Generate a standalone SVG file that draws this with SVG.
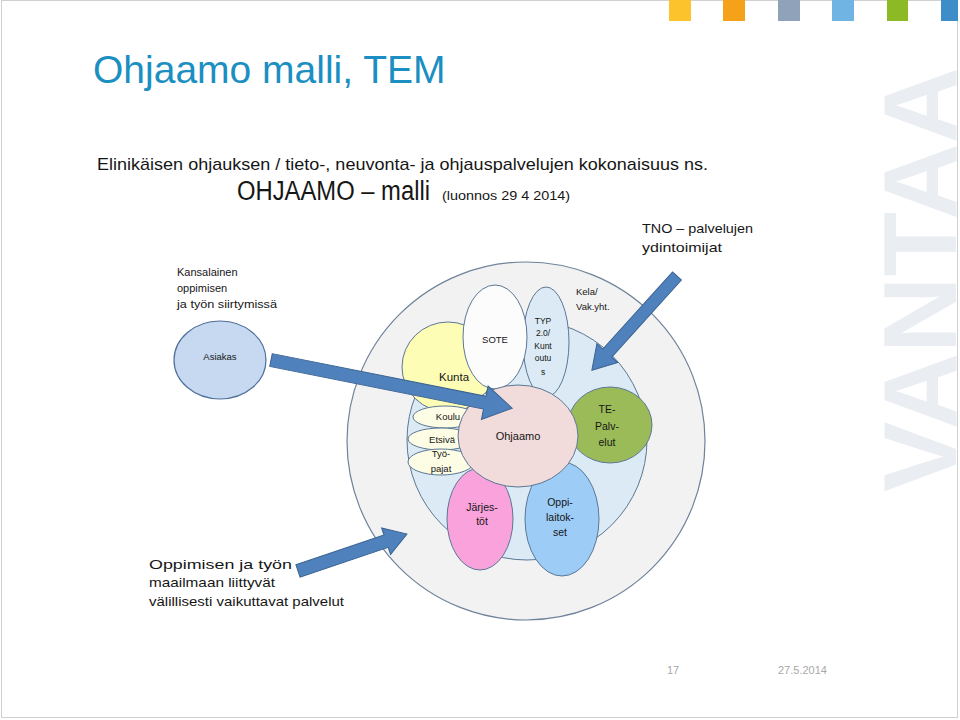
<svg xmlns="http://www.w3.org/2000/svg" width="960" height="720" viewBox="0 0 960 720">
<style>
.t{font-family:"Liberation Sans Narrow","Liberation Sans",Arial,sans-serif;fill:#161616}
.c{text-anchor:middle}
.s8{font-size:8.5px}
.s9{font-size:9.5px}
.s10{font-size:10.5px}
.e{stroke:#5b7795;stroke-width:1}
.arrow{fill:#4f81bd;stroke:#3a6290;stroke-width:1}
.foot{font-family:"Liberation Sans",Arial,sans-serif;font-size:11px;fill:#a8a8a8}
</style>
<rect x="0" y="0" width="960" height="720" fill="#ffffff"/>
<g id="watermark">
<text transform="translate(956,492) rotate(-90)" font-family="Liberation Sans,Arial,sans-serif" font-weight="bold" font-size="104" fill="#eaedf2" textLength="425" lengthAdjust="spacingAndGlyphs">VANTAA</text>
</g>
<rect x="1.5" y="0.5" width="956" height="717" fill="none" stroke="#d0d0d0" stroke-width="1"/>
<g id="header-squares">
<rect x="669" y="0" width="22" height="21" fill="#fcc32c"/>
<rect x="723" y="0" width="22" height="21" fill="#f6a11a"/>
<rect x="778" y="0" width="22" height="21" fill="#8fa2ba"/>
<rect x="832" y="0" width="22" height="21" fill="#6fb4e2"/>
<rect x="887" y="0" width="21" height="21" fill="#8cba24"/>
<rect x="941" y="0" width="17" height="21" fill="#3d8dc9"/>
</g>
<g id="title">
<text x="93" y="83" font-family="Liberation Sans,Arial,sans-serif" font-size="39" fill="#1b8fc2">Ohjaamo malli, TEM</text>
</g>
<g id="subtitle">
<text class="t" x="97" y="170" font-size="17" textLength="611" lengthAdjust="spacingAndGlyphs">Elinikäisen ohjauksen / tieto-, neuvonta- ja ohjauspalvelujen kokonaisuus ns.</text>
<text class="t" x="237" y="200" font-size="27" textLength="193" lengthAdjust="spacingAndGlyphs">OHJAAMO – malli</text>
<text class="t" x="442" y="200" font-size="12" textLength="128" lengthAdjust="spacingAndGlyphs">(luonnos 29 4 2014)</text>
</g>
<g id="outer-ring">
<circle cx="526" cy="441" r="179" fill="#f2f2f2" stroke="#6f829a" stroke-width="1.2"/>
</g>
<g id="inner-ring">
<circle cx="527" cy="440" r="120" fill="#dbeaf4" stroke="#5b7795" stroke-width="1"/>
</g>
<g id="kela">
<text class="t s9" x="576" y="295">Kela/</text>
<text class="t s9" x="576" y="310">Vak.yht.</text>
</g>
<g id="kunta">
<ellipse class="e" cx="448" cy="367" rx="46" ry="45" fill="#fefdb6"/>
<text class="t c" x="454" y="381" font-size="11.5">Kunta</text>
</g>
<g id="typ">
<ellipse class="e" cx="546" cy="342" rx="23" ry="55" fill="#dbeaf4"/>
<text class="t c s8" x="543" y="324">TYP</text>
<text class="t c s8" x="543" y="336">2.0/</text>
<text class="t c s8" x="543" y="349">Kunt</text>
<text class="t c s8" x="543" y="361">outu</text>
<text class="t c s8" x="543" y="375">s</text>
</g>
<g id="sote">
<ellipse class="e" cx="495" cy="337" rx="32" ry="52" fill="#fcfcfc"/>
<text class="t c s9" x="495" y="343">SOTE</text>
</g>
<g id="koulu">
<ellipse class="e" cx="445" cy="417" rx="32" ry="11" fill="#fdfde6"/>
<text class="t c s9" x="448" y="420">Koulu</text>
</g>
<g id="etsiva">
<ellipse class="e" cx="441" cy="439" rx="33" ry="11" fill="#fdfde6"/>
<text class="t c s9" x="442" y="443">Etsivä</text>
</g>
<g id="tyopajat">
<ellipse class="e" cx="441" cy="462" rx="33" ry="13" fill="#fdfde6"/>
<text class="t c s9" x="441" y="457">Työ-</text>
<text class="t c s9" x="441" y="472">pajat</text>
</g>
<g id="te-palvelut">
<ellipse class="e" cx="610" cy="425" rx="42" ry="38" fill="#9bbb59"/>
<text class="t c s10" x="607" y="413">TE-</text>
<text class="t c s10" x="607" y="430">Palv-</text>
<text class="t c s10" x="607" y="446">elut</text>
</g>
<g id="jarjestot">
<ellipse class="e" cx="480" cy="519" rx="33" ry="51" fill="#f9a2dc"/>
<text class="t c s10" x="482" y="511">Järjes-</text>
<text class="t c s10" x="482" y="525">töt</text>
</g>
<g id="oppilaitokset">
<ellipse class="e" cx="562" cy="519" rx="37" ry="57" fill="#9dccf6"/>
<text class="t c s10" x="560" y="506">Oppi-</text>
<text class="t c s10" x="560" y="521">laitok-</text>
<text class="t c s10" x="560" y="536">set</text>
</g>
<g id="ohjaamo">
<ellipse class="e" cx="518" cy="436" rx="60" ry="51" fill="#f2dcdb"/>
<text class="t c" x="518" y="440" font-size="11">Ohjaamo</text>
</g>
<g id="asiakas">
<ellipse cx="220" cy="360" rx="46" ry="39" fill="#c6d9f1" stroke="#4f6e9a" stroke-width="1.2"/>
<text class="t c s9" x="220" y="360">Asiakas</text>
</g>
<g id="kansalainen">
<text class="t" x="177" y="276" font-size="11">Kansalainen</text>
<text class="t" x="177" y="292" font-size="11">oppimisen</text>
<text class="t" x="177" y="308" font-size="11" textLength="100" lengthAdjust="spacingAndGlyphs">ja työn siirtymissä</text>
</g>
<g id="tno">
<text class="t" x="642" y="233" font-size="13.5" textLength="111" lengthAdjust="spacingAndGlyphs">TNO – palvelujen</text>
<text class="t" x="642" y="252" font-size="13.5" textLength="80" lengthAdjust="spacingAndGlyphs">ydintoimijat</text>
</g>
<g id="valilliset">
<text class="t" x="149" y="569" font-size="13.5" textLength="143" lengthAdjust="spacingAndGlyphs">Oppimisen ja työn</text>
<text class="t" x="149" y="587" font-size="13.5" textLength="126" lengthAdjust="spacingAndGlyphs">maailmaan liittyvät</text>
<text class="t" x="149" y="606" font-size="13.5" textLength="195" lengthAdjust="spacingAndGlyphs">välillisesti vaikuttavat palvelut</text>
</g>
<g id="connectors">
<polygon class="arrow" transform="translate(271,360) rotate(11.3)" points="0,-6.5 218,-6.5 218,-17 246,0 218,17 218,6.5 0,6.5"/>
<polygon class="arrow" transform="translate(677,276) rotate(132.1)" points="0,-6 104,-6 104,-14 127,0 104,14 104,6 0,6"/>
<polygon class="arrow" transform="translate(298,571) rotate(-18.7)" points="0,-6.5 93,-6.5 93,-14 115,0 93,14 93,6.5 0,6.5"/>
</g>
<g id="footer">
<text class="foot" x="667" y="674">17</text>
<text class="foot" x="778" y="674">27.5.2014</text>
</g>
</svg>
